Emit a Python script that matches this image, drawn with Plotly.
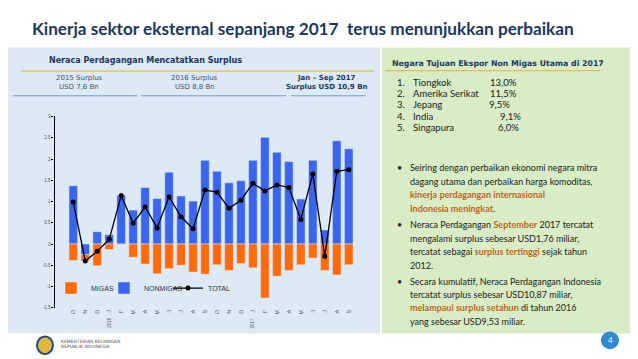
import plotly.graph_objects as go

# ---------------- data ----------------
periods = ["2015-10", "2015-11", "2015-12", "2016-01", "2016-02", "2016-03", "2016-04", "2016-05",
           "2016-06", "2016-07", "2016-08", "2016-09", "2016-10", "2016-11", "2016-12", "2017-01",
           "2017-02", "2017-03", "2017-04", "2017-05", "2017-06", "2017-07", "2017-08", "2017-09"]
month_labels = ["O", "N", "D", "J", "F", "M", "A", "M", "J", "J", "A", "S",
                "O", "N", "D", "J", "F", "M", "A", "M", "J", "J", "A", "S"]
migas = [-0.39, -0.15, -0.51, -0.13, -0.01, -0.31, -0.47, -0.70, -0.58, -0.50, -0.66, -0.71,
         -0.49, -0.62, -0.46, -0.56, -1.27, -0.76, -0.62, -0.49, -0.33, -0.62, -0.73, -0.49]
nonmigas = [1.37, -0.25, 0.29, 0.22, 1.15, 0.80, 1.33, 1.07, 1.69, 1.13, 1.01, 1.97,
            1.71, 1.44, 1.49, 1.97, 2.51, 2.16, 1.94, 1.06, 1.97, 0.33, 2.43, 2.24]
total = [0.99, -0.40, -0.17, 0.11, 1.14, 0.49, 0.87, 0.38, 1.11, 0.64, 0.36, 1.27,
         1.22, 0.84, 1.03, 1.43, 1.25, 1.39, 1.33, 0.58, 1.65, -0.29, 1.71, 1.75]
year_marks = {"2016-01": "2016", "2017-01": "2017"}
y_ticks = [-1.5, -1, -0.5, 0, 0.5, 1, 1.5, 2, 2.5, 3]
y_tick_labels = ["-1.5", "-1", "-0.5", "0", "0.5", "1", "1.5", "2", "2.5", "3"]

countries = ["Tiongkok", "Amerika Serikat", "Jepang", "India", "Singapura"]
shares = ["13,0%", "11,5%", "9,5%", "9,1%", "6,0%"]

# ---------------- geometry helpers ----------------
W, H = 638, 359
def px(x):
    return x / W
def py(y):
    return 1 - y / H

NAVY = "#1B365F"
ORANGE_TXT = "#C0651B"
BLUE_BAR = "#3A66EE"
ORANGE_BAR = "#FF6A0A"
BLUE_BG = "#DDEAF6"
GREEN_BG = "#D8ECC6"
GOLD = "#E2BE55"

fig = go.Figure()
fig.add_trace(go.Bar(x=periods, y=nonmigas, name="NONMIGAS", marker_color=BLUE_BAR,
                     width=0.72, legend="legend2"))
fig.add_trace(go.Bar(x=periods, y=migas, name="MIGAS", marker_color=ORANGE_BAR,
                     width=0.72, legend="legend"))
fig.add_trace(go.Scatter(x=periods, y=total, name="TOTAL", mode="lines+markers",
                         line=dict(color="black", width=1.3),
                         marker=dict(color="black", size=5), legend="legend3"))

shapes = [
    dict(type="rect", xref="paper", yref="paper", x0=px(0), x1=px(372), y0=py(328), y1=py(38),
         fillcolor=BLUE_BG, line_width=0, layer="below"),
    dict(type="rect", xref="paper", yref="paper", x0=px(374), x1=px(638), y0=py(328), y1=py(38),
         fillcolor=GREEN_BG, line_width=0, layer="below"),
    dict(type="line", xref="paper", yref="paper", x0=px(13), x1=px(366), y0=py(62), y1=py(62),
         line=dict(color=GOLD, width=1.2)),
    dict(type="line", xref="paper", yref="paper", x0=px(377), x1=px(592), y0=py(61.5), y1=py(61.5),
         line=dict(color=GOLD, width=1.2)),
    dict(type="line", xref="paper", yref="paper", x0=px(5), x1=px(129), y0=py(87), y1=py(87),
         line=dict(color="#5B86C0", width=0.8)),
    dict(type="line", xref="paper", yref="paper", x0=px(133), x1=px(278), y0=py(87), y1=py(87),
         line=dict(color="#5B86C0", width=0.8)),
    dict(type="line", xref="paper", yref="paper", x0=px(283), x1=px(358), y0=py(87), y1=py(87),
         line=dict(color="#5B86C0", width=0.8)),
    dict(type="circle", xref="paper", yref="paper", x0=px(593), x1=px(611), y0=py(344), y1=py(326),
         fillcolor="#2F8AD0", line_width=0),
    dict(type="circle", xref="paper", yref="paper", x0=px(29), x1=px(45), y0=py(349), y1=py(331),
         fillcolor="#E2B93B", line=dict(color="#1F4E8C", width=2)),
]

ann = []
def text(x, y, s, size, color="#222", family="Lato", bold=False, xanchor="left", **kw):
    if bold:
        s = "<b>" + s + "</b>"
    ann.append(dict(x=px(x), y=py(y), xref="paper", yref="paper", text=s, showarrow=False,
                    xanchor=xanchor, yanchor="middle", align="left",
                    font=dict(size=size, color=color, family=family), **kw))

text(22, 19, "Kinerja sektor eksternal sepanjang 2017  terus menunjukkan perbaikan", 17.2,
     NAVY, "Lato", True)
text(39, 51, "Neraca Perdagangan Mencatatkan Surplus", 8, NAVY, "DejaVu Sans", True)
text(71, 69, "2015 Surplus", 7, "#3E5470", "DejaVu Sans", xanchor="center")
text(71, 78.5, "USD 7,6 Bn", 7, "#3E5470", "DejaVu Sans", xanchor="center")
text(187, 69, "2016 Surplus", 7, "#3E5470", "DejaVu Sans", xanchor="center")
text(187, 78.5, "USD 8,8 Bn", 7, "#3E5470", "DejaVu Sans", xanchor="center")
text(318, 69, "Jan – Sep 2017", 7, NAVY, "DejaVu Sans", True, xanchor="center")
text(318, 78.5, "Surplus USD 10,9 Bn", 7, NAVY, "DejaVu Sans", True, xanchor="center")

text(382, 54, "Negara Tujuan Ekspor Non Migas Utama di 2017", 7.8, NAVY, "DejaVu Sans", True)
list_y = [74, 85, 96, 108, 119]
pct_x = [480, 480, 479, 490, 488]
for i, (c, s) in enumerate(zip(countries, shares)):
    text(387, list_y[i], f"{i + 1}.", 9.5, "#222")
    text(403, list_y[i], c, 9.5, "#222")
    text(pct_x[i], list_y[i], s, 9.5, "#222")

def og(s):
    return f"<b><span style='color:{ORANGE_TXT}'>{s}</span></b>"

bullets = [
    (160, ["Seiring dengan perbaikan ekonomi negara mitra",
           "dagang utama dan perbaikan harga komoditas,",
           og("kinerja perdagangan internasional"),
           og("Indonesia meningkat") + "."]),
    (218, ["Neraca Perdagangan " + og("September") + " 2017 tercatat",
           "mengalami surplus sebesar USD1,76 miliar,",
           "tercatat sebagai " + og("surplus tertinggi") + " sejak tahun",
           "2012."]),
    (275, ["Secara kumulatif, Neraca Perdagangan Indonesia",
           "tercatat surplus sebesar USD10,87 miliar,",
           og("melampaui surplus setahun") + " di tahun 2016",
           "yang sebesar USD9,53 miliar."]),
]
for y0, lines in bullets:
    text(391, y0, "•", 9, "#222", xanchor="center")
    for k, ln in enumerate(lines):
        text(400, y0 + k * 13.6, ln, 9, "#222")

text(602, 335, "4", 8, "white", xanchor="center")
text(51, 336, "KEMENTERIAN KEUANGAN", 4.5, "#555", "DejaVu Sans")
text(51, 341.5, "REPUBLIK INDONESIA", 4.5, "#555", "DejaVu Sans")

for per, yr in year_marks.items():
    ann.append(dict(x=per, y=py(317), xref="x", yref="paper", text=yr, showarrow=False,
                    textangle=-90, font=dict(size=4.5, color="#555", family="Liberation Sans"),
                    xanchor="center", yanchor="middle"))

leg_common = dict(orientation="h", yanchor="middle", y=py(282), bgcolor="rgba(0,0,0,0)",
                  font=dict(size=7, color="#333", family="Liberation Sans"),
                  xanchor="left", itemwidth=30)

fig.update_layout(
    width=W, height=H,
    margin=dict(l=0, r=0, t=0, b=0),
    paper_bgcolor="white",
    plot_bgcolor="rgba(0,0,0,0)",
    barmode="relative",
    bargap=0.28,
    showlegend=True,
    legend=dict(x=px(43), **leg_common),
    legend2=dict(x=px(96), **leg_common),
    legend3=dict(x=px(160), **leg_common),
    shapes=shapes,
    annotations=ann,
    xaxis=dict(domain=[px(46.5), px(359.5)], type="category", categoryorder="array",
               categoryarray=periods, tickvals=periods, ticktext=month_labels,
               tickangle=-90, tickfont=dict(size=5.5, color="#555", family="Liberation Sans"),
               showgrid=False, showline=False, zeroline=False, ticks=""),
    yaxis=dict(domain=[py(302), py(108)], range=[-1.5, 3], tickvals=y_ticks,
               ticktext=y_tick_labels, tickfont=dict(size=4.5, color="#555", family="Liberation Sans"),
               showgrid=False, zeroline=False, showline=True, linecolor="black", linewidth=1.2,
               ticks="outside", ticklen=2, tickcolor="black", tickwidth=0.8),
)

fig.write_html("out.html")
